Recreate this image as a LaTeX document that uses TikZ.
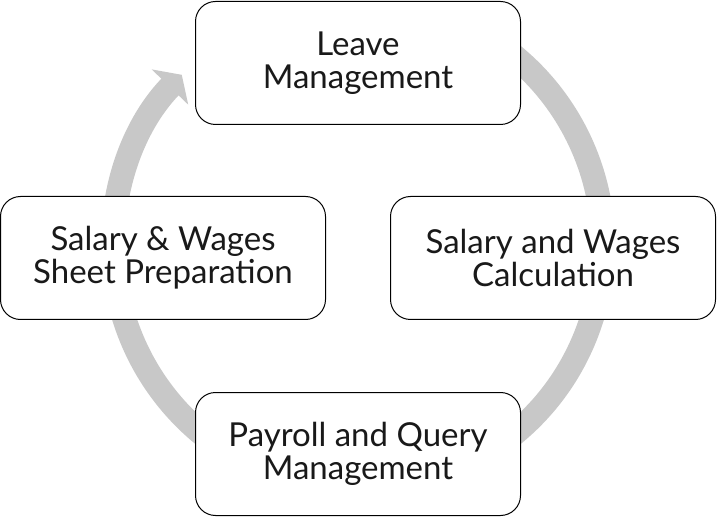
\documentclass[tikz,border=0pt]{standalone}
\usepackage{fontspec}
\setmainfont{Lato}
\usetikzlibrary{arrows.meta,calc}
\definecolor{ringgray}{HTML}{C8C8C8}
\begin{document}
\begin{tikzpicture}[x=1pt,y=1pt,
  stagebox/.style={draw=black,line width=1pt,fill=white,rounded corners=20pt,
    minimum width=325pt,minimum height=123pt,align=center,
    font=\fontsize{33}{33}\selectfont,text=black!90,inner sep=0pt}]
\useasboundingbox (0,0) rectangle (717,517);
\coordinate (c) at (358,272);
\draw[ringgray,line width=24pt,-{Triangle[width=50pt,length=17pt]}]
  ($(c)+(70:245)$) arc[start angle=70,end angle=-224,radius=245];
\node[stagebox] (leave) at (358,454) {Leave\\Management};
\node[stagebox] (calc) at (553,259) {Salary and Wages\\Calculation};
\node[stagebox] (payroll) at (358,63) {Payroll and Query\\Management};
\node[stagebox] (sheet) at (163,259) {Salary \& Wages\\Sheet Preparation};
\end{tikzpicture}
\end{document}
